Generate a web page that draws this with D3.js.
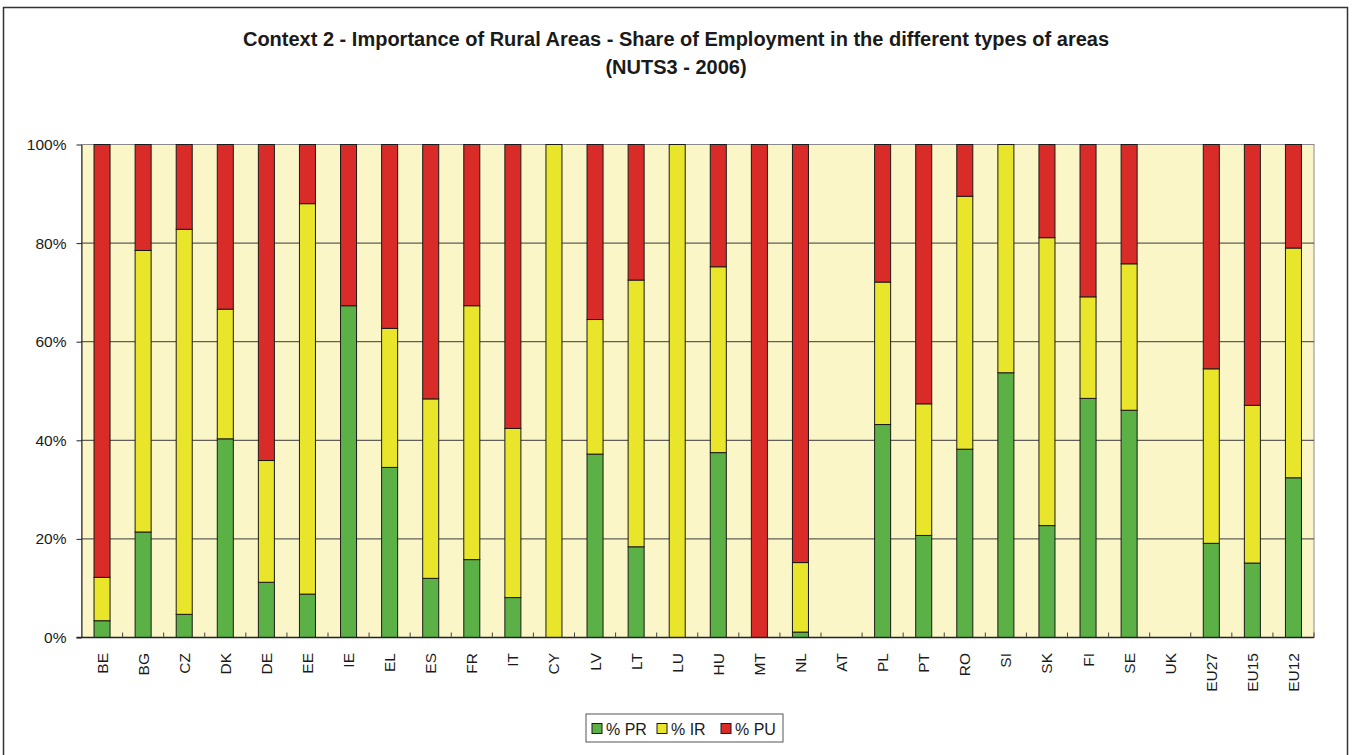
<!DOCTYPE html>
<html>
<head>
<meta charset="utf-8">
<script src="https://cdn.jsdelivr.net/npm/d3@7"></script>
<style>
  body { margin: 0; background: #fff; }
  svg text { font-family: Arial, "Liberation Sans", sans-serif; fill: #1a1a1a; }
</style>
</head>
<body>
<div id="chart"></div>
<script>
// countries / aggregates along the x axis
var categories = ["BE","BG","CZ","DK","DE","EE","IE","EL","ES","FR","IT","CY","LV","LT","LU","HU","MT","NL","AT","PL","PT","RO","SI","SK","FI","SE","UK","EU27","EU15","EU12"];

// share of employment, %
var pctPR = [3.4,21.4,4.7,40.3,11.2,8.8,67.3,34.5,12.0,15.8,8.1,0,37.2,18.4,0,37.5,0,1.1,0,43.2,20.7,38.2,53.7,22.7,48.5,46.1,0,19.1,15.1,32.4];
var pctIR = [8.8,57.1,78.1,26.3,24.7,79.2,0,28.2,36.4,51.5,34.3,100,27.3,54.1,100,37.7,0,14.1,0,28.9,26.7,51.3,46.3,58.4,20.6,29.7,0,35.4,32.0,46.6];
var pctPU = [87.8,21.5,17.2,33.4,64.1,12.0,32.7,37.3,51.6,32.7,57.6,0,35.5,27.5,0,24.8,100,84.8,0,27.9,52.6,10.5,0,18.9,30.9,24.2,0,45.5,52.9,21.0];

var seriesNames = ["% PR", "% IR", "% PU"];
var yTicks = [0, 20, 40, 60, 80, 100];

var colors = { "% PR": "#5bb146", "% IR": "#e9e52b", "% PU": "#d92b27" };

var W = 1353, H = 755;
var margin = {top: 144.5, right: 39, bottom: 117.5, left: 81.5};
var width = W - margin.left - margin.right,
    height = H - margin.top - margin.bottom;

var svg = d3.select("#chart").append("svg")
    .attr("width", W)
    .attr("height", H);

// outer frame
svg.append("rect")
    .attr("x", 3.5).attr("y", 7.5)
    .attr("width", 1344).attr("height", 760)
    .attr("fill", "none")
    .attr("stroke", "#333")
    .attr("stroke-width", 1.5);

// title
svg.append("text")
    .attr("x", 676).attr("y", 46)
    .attr("text-anchor", "middle")
    .style("font-size", "20px").style("font-weight", "bold")
    .text("Context 2 - Importance of Rural Areas - Share of Employment in the different types of areas");
svg.append("text")
    .attr("x", 676).attr("y", 74)
    .attr("text-anchor", "middle")
    .style("font-size", "20px").style("font-weight", "bold")
    .text("(NUTS3 - 2006)");

var g = svg.append("g").attr("transform", "translate(" + margin.left + "," + margin.top + ")");

var table = categories.map(function(c, i) {
  return {cat: c, "% PR": pctPR[i], "% IR": pctIR[i], "% PU": pctPU[i]};
});

var x = d3.scaleBand().domain(categories).range([0, width]).paddingInner(0.61).paddingOuter(0.305);
var y = d3.scaleLinear().domain([0, 100]).range([height, 0]);

// plot background
g.append("rect")
    .attr("width", width).attr("height", height)
    .attr("fill", "#faf6c8")
    .attr("stroke", "#8a8a8a")
    .attr("stroke-width", 1);

// gridlines
g.selectAll(".grid").data(yTicks.filter(function(t) { return t > 0 && t < 100; }))
  .enter().append("line")
    .attr("x1", 0).attr("x2", width)
    .attr("y1", function(d) { return y(d); })
    .attr("y2", function(d) { return y(d); })
    .attr("stroke", "#3a3a3a")
    .attr("stroke-width", 1);

// stacked bars
var stack = d3.stack().keys(seriesNames);
var layers = stack(table);

g.selectAll(".layer").data(layers)
  .enter().append("g")
    .attr("fill", function(d) { return colors[d.key]; })
  .selectAll("rect").data(function(d) { return d.filter(function(v) { return v[1] - v[0] > 0; }); })
  .enter().append("rect")
    .attr("x", function(d) { return x(d.data.cat); })
    .attr("width", x.bandwidth())
    .attr("y", function(d) { return y(d[1]); })
    .attr("height", function(d) { return y(d[0]) - y(d[1]); })
    .attr("stroke", "#1a1a1a")
    .attr("stroke-width", 1);

// y axis
var yAxis = g.append("g")
    .call(d3.axisLeft(y).tickValues(yTicks).tickFormat(function(d) { return d + "%"; }).tickSize(5).tickSizeOuter(0).tickPadding(10));
yAxis.select(".domain").attr("stroke", "#222");
yAxis.selectAll(".tick line").attr("stroke", "#222");
yAxis.selectAll("text").style("font-size", "15.5px").attr("fill", "#1a1a1a");

// x axis: baseline, ticks at category boundaries pointing up
var step = x.step();
g.append("line")
    .attr("x1", -5).attr("x2", width)
    .attr("y1", height).attr("y2", height)
    .attr("stroke", "#222").attr("stroke-width", 1.5);
g.selectAll(".xtick").data(d3.range(1, categories.length + 1))
  .enter().append("line")
    .attr("x1", function(i) { return i * step; })
    .attr("x2", function(i) { return i * step; })
    .attr("y1", height).attr("y2", height - 5)
    .attr("stroke", "#444");

g.selectAll(".xlabel").data(categories)
  .enter().append("text")
    .attr("transform", function(d) {
      return "translate(" + (x(d) + x.bandwidth() / 2 + 5.5) + "," + (height + 15.5) + ") rotate(-90)";
    })
    .attr("text-anchor", "end")
    .style("font-size", "15.5px")
    .text(function(d) { return d; });

// legend
var lg = svg.append("g").attr("transform", "translate(586,714)");
lg.append("rect")
    .attr("width", 197).attr("height", 28)
    .attr("fill", "#fff").attr("stroke", "#555").attr("stroke-width", 1);
var legendX = [6, 71, 135];
seriesNames.forEach(function(s, i) {
  lg.append("rect")
      .attr("x", legendX[i]).attr("y", 9.5)
      .attr("width", 10).attr("height", 10)
      .attr("fill", colors[s]).attr("stroke", "#1a1a1a");
  lg.append("text")
      .attr("x", legendX[i] + 14).attr("y", 20.5)
      .style("font-size", "16px")
      .text(s);
});
</script>
</body>
</html>
